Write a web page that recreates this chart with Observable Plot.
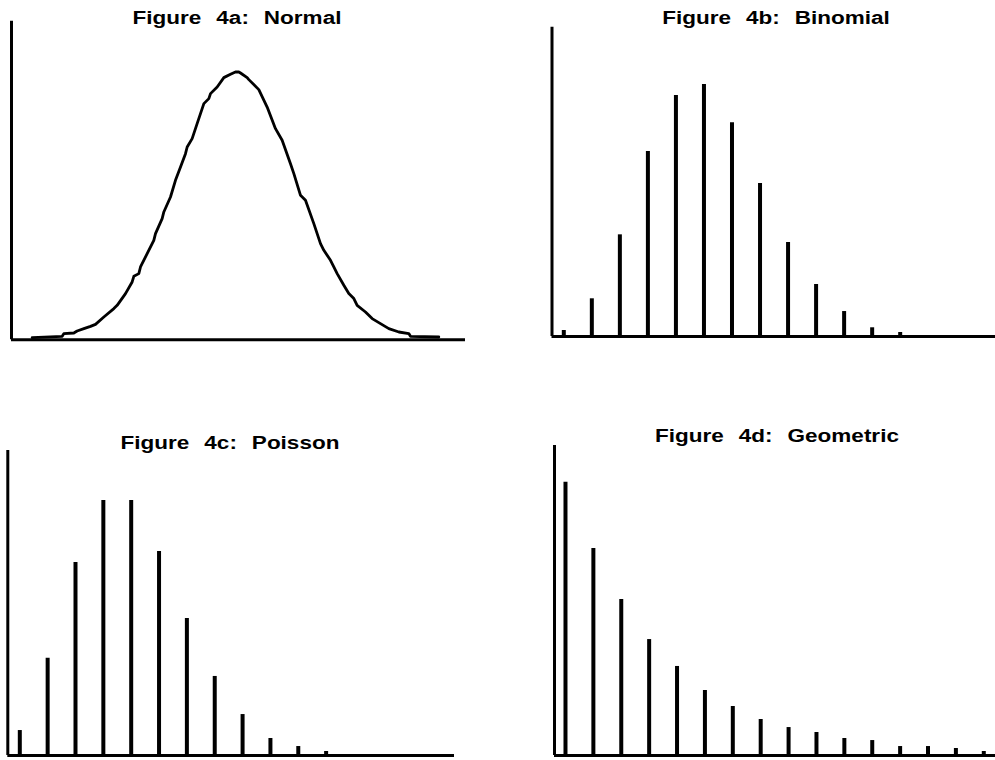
<!DOCTYPE html>
<html>
<head>
<meta charset="utf-8">
<script src="https://cdn.jsdelivr.net/npm/d3@7"></script>
<script src="https://cdn.jsdelivr.net/npm/@observablehq/plot@0.6"></script>
<style>
  html, body { margin: 0; padding: 0; background: #fff; }
  #chart { position: relative; width: 995px; height: 760px; background: #fff; overflow: hidden; }
  .panel { position: absolute; }
  .title {
    position: absolute; white-space: nowrap;
    font-family: "Liberation Sans", Arial, Helvetica, sans-serif;
    font-weight: bold; font-size: 18px; line-height: 18px; color: #000;
    word-spacing: 7px;
    transform: translateX(-50%) scaleX(1.25);
  }
</style>
</head>
<body>
<div id="chart"></div>
<script>
// ---- Data ----
const titles = ["Figure 4a: Normal", "Figure 4b: Binomial", "Figure 4c: Poisson", "Figure 4d: Geometric"];

// Figure 4a: Normal curve (z, density)
const normalX = [-3.405, -2.905, -2.878, -2.711, -2.656, -2.544, -2.433, -2.35, -2.211, -2.044, -1.989, -1.85, -1.739,
  -1.711, -1.628, -1.6, -1.489, -1.378, -1.35, -1.239, -1.211, -1.1, -1.017, -0.933, -0.85, -0.822, -0.739, -0.656,
  -0.544, -0.461, -0.433, -0.322, -0.211, -0.1, -0.017, 0.039, 0.067, 0.178, 0.206, 0.372, 0.511, 0.65, 0.761, 0.9,
  0.956, 1.067, 1.15, 1.289, 1.4, 1.456, 1.567, 1.622, 1.678, 1.789, 1.872, 1.956, 2.011, 2.15, 2.261, 2.4, 2.539,
  2.706, 2.872, 2.9, 3.372];
const normalY = [0.0033, 0.0052, 0.0093, 0.0102, 0.0132, 0.0168, 0.0202, 0.0232, 0.0342, 0.0468, 0.0517, 0.0693, 0.0867,
  0.0952, 0.0992, 0.1092, 0.1292, 0.1492, 0.1592, 0.1817, 0.1917, 0.2141, 0.2391, 0.2591, 0.2791, 0.2891, 0.3016, 0.3241,
  0.3541, 0.3616, 0.3691, 0.379, 0.3931, 0.398, 0.4015, 0.4015, 0.40, 0.3931, 0.3901, 0.3751, 0.349, 0.3166, 0.2991, 0.2641,
  0.2492, 0.2166, 0.2091, 0.1742, 0.1442, 0.1342, 0.1192, 0.1092, 0.0992, 0.0817, 0.0693, 0.0618, 0.0517, 0.0417, 0.0318,
  0.0243, 0.0168, 0.0117, 0.0093, 0.0052, 0.0042];

// Figure 4b: Binomial
const binomK = [0, 1, 2, 3, 4, 5, 6, 7, 8, 9, 10, 11, 12];
const binomP = [0.0046, 0.029, 0.0782, 0.1423, 0.1854, 0.1938, 0.1644, 0.1177, 0.0723, 0.040, 0.0192, 0.0067, 0.0031];

// Figure 4c: Poisson
const poissonK = [0, 1, 2, 3, 4, 5, 6, 7, 8, 9, 10, 11];
const poissonP = [0.0192, 0.0748, 0.1485, 0.1962, 0.1962, 0.1569, 0.1054, 0.0608, 0.0315, 0.0131, 0.0069, 0.0031];

// Figure 4d: Geometric
const geomK = [0, 1, 2, 3, 4, 5, 6, 7, 8, 9, 10, 11, 12, 13, 14, 15];
const geomP = [0.2102, 0.1592, 0.120, 0.0892, 0.0685, 0.050, 0.0377, 0.0277, 0.0215, 0.0177, 0.0131, 0.0115, 0.0069,
  0.0069, 0.0054, 0.0031];

// ---- Build ----
const chart = document.getElementById("chart");
const AXIS_W = 3;
const BAR_W = 4;

function addTitle(text, cx, top) {
  const d = document.createElement("div");
  d.className = "title";
  d.textContent = text;
  d.style.left = cx + "px";
  d.style.top = top + "px";
  chart.appendChild(d);
}

function addPanel(svg, left, top) {
  const wrap = document.createElement("div");
  wrap.className = "panel";
  wrap.style.left = left + "px";
  wrap.style.top = top + "px";
  wrap.appendChild(svg);
  chart.appendChild(wrap);
}

function axesMarks(xDomain) {
  return [
    Plot.ruleY([0], {stroke: "black", strokeWidth: AXIS_W}),
    Plot.ruleX([xDomain[0]], {stroke: "black", strokeWidth: AXIS_W})
  ];
}

const baseStyle = {background: "transparent", overflow: "visible"};

// Panel a
{
  const normal = normalX.map((x, i) => ({x, y: normalY[i]}));
  const xDomain = [-3.75, 3.817];
  const svg = Plot.plot({
    width: 470, height: 345,
    marginLeft: 11, marginRight: 5, marginTop: 20.7, marginBottom: 5.7,
    style: baseStyle,
    x: {domain: xDomain, axis: null},
    y: {domain: [0, 0.4777], axis: null},
    marks: [
      Plot.line(normal, {x: "x", y: "y", stroke: "black", strokeWidth: 2.8, strokeLinejoin: "round"}),
      ...axesMarks(xDomain)
    ]
  });
  addPanel(svg, 0, 0);
  addTitle(titles[0], 236.7, 8.8);
}

function barPanel(ks, ps, opts) {
  const data = ks.map((k, i) => ({k, p: ps[i]}));
  return Plot.plot({
    width: opts.width, height: opts.height,
    marginLeft: opts.ml, marginRight: opts.mr, marginTop: opts.mt, marginBottom: opts.mb,
    style: baseStyle,
    x: {domain: opts.xDomain, axis: null},
    y: {domain: [0, opts.yTop], axis: null},
    marks: [
      Plot.ruleX(data, {x: "k", y: "p", stroke: "black", strokeWidth: BAR_W}),
      ...axesMarks(opts.xDomain)
    ]
  });
}

// Panel b
addPanel(barPanel(binomK, binomP, {
  width: 465, height: 345, ml: 21.5, mr: 0, mt: 26.7, mb: 9,
  xDomain: [-0.421, 15.4], yTop: 0.2379
}), 530, 0);
addTitle(titles[1], 775.8, 8.8);

// Panel c
addPanel(barPanel(poissonK, poissonP, {
  width: 470, height: 360, ml: 7.3, mr: 16, mt: 50, mb: 5,
  xDomain: [-0.431, 15.61], yTop: 0.2346
}), 0, 400);
addTitle(titles[2], 230.3, 433.8);

// Panel d
addPanel(barPanel(geomK, geomP, {
  width: 465, height: 360, ml: 24, mr: 0, mt: 45, mb: 5,
  xDomain: [-0.394, 15.42], yTop: 0.2385
}), 530, 400);
addTitle(titles[3], 776.8, 427.3);
</script>
</body>
</html>
